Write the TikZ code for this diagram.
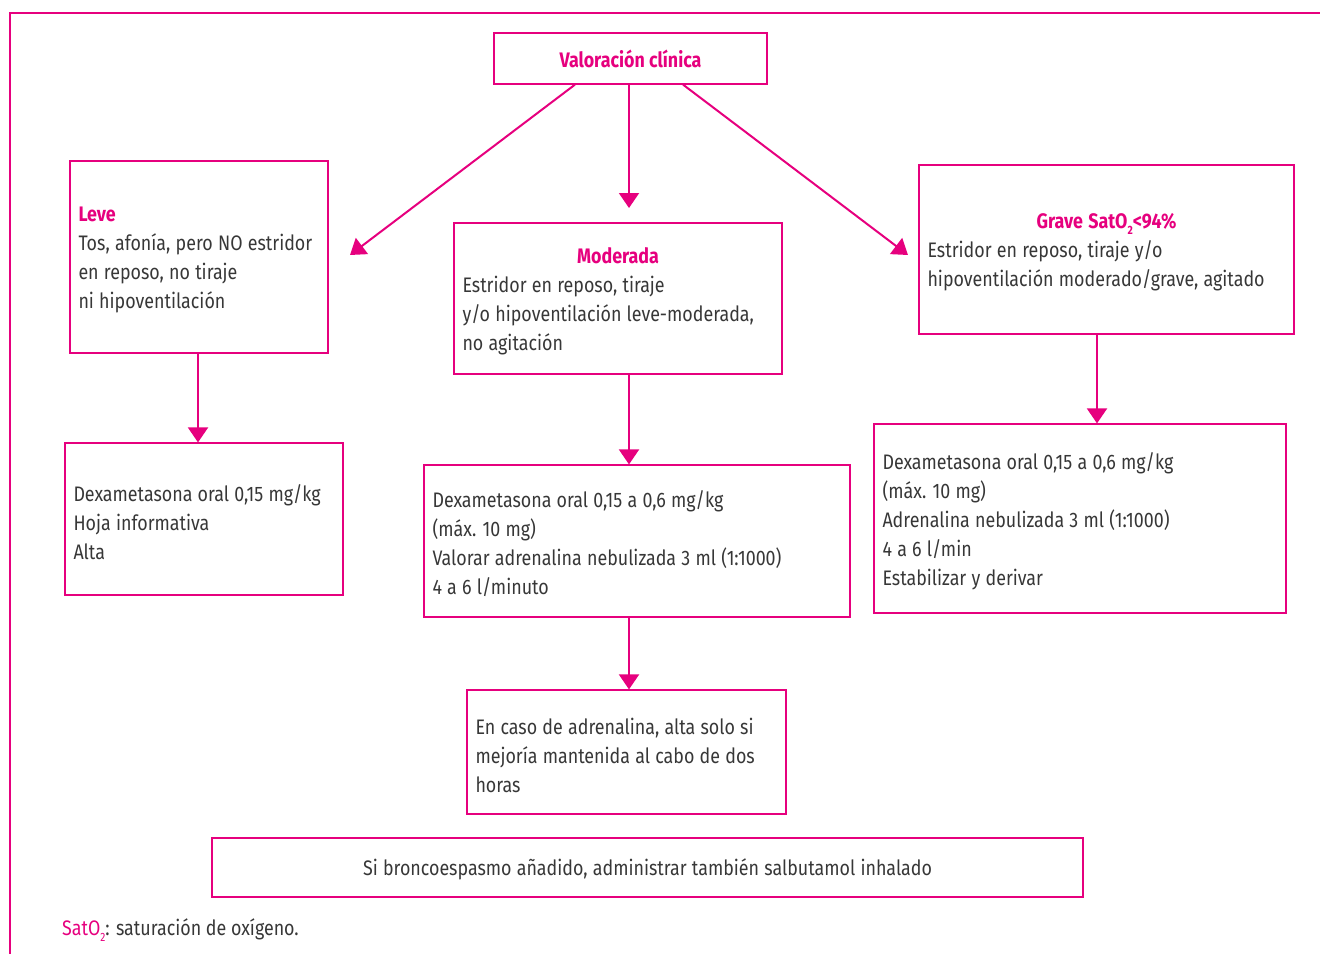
\documentclass[tikz,border=0pt]{standalone}
\usepackage{fontspec}
\setmainfont{Fira Sans}[FakeStretch=0.85]
\usetikzlibrary{arrows.meta}
\definecolor{mag}{RGB}{230,0,126}
\definecolor{txt}{RGB}{55,55,55}
\newcommand\ttl[1]{{\bfseries\color{mag}#1}}
\newcommand\lowtwo{\raisebox{-0.55ex}{\fontsize{12}{12}\selectfont 2}}
\newcommand\padbottom{\endgraf\vspace{-6pt}\nointerlineskip\hbox{}}
\newcommand\setspaces{\spaceskip=0.25em\relax\xspaceskip=0.3em\relax}
\begin{document}
\begin{tikzpicture}[x=1pt,y=-1pt,
  box/.style={draw=mag, line width=1.2pt, inner xsep=8.5pt, inner ysep=0pt,
    align=left, font=\fontsize{21}{29}\selectfont, text=txt},
  tbox/.style={box, execute at begin node=\setspaces, execute at end node=\padbottom},
  arr/.style={draw=mag, line width=2pt, -{Triangle[width=20pt,length=15pt]}}]
\useasboundingbox (0,0) rectangle (1320,954);
\draw[mag, line width=1.5pt] (1320,13) -- (10,13) -- (10,954);

\node[box, minimum width=273pt, minimum height=51pt, align=center] (val) at (630.5,58.5) {\ttl{Valoración clínica}};

\node[tbox, minimum width=258pt, minimum height=192pt, text width=241pt] (leve) at (199,257)
  {\ttl{Leve}\\Tos, afonía, pero NO estridor\\en reposo, no tiraje\\ni hipoventilación};
\node[tbox, minimum width=328pt, minimum height=151pt, text width=311pt] (mod) at (618,298.5)
  {\makebox[\hsize]{\ttl{Moderada}}\\Estridor en reposo, tiraje\\y/o hipoventilación leve-moderada,\\no agitación};
\node[tbox, minimum width=375pt, minimum height=169pt, text width=358pt] (grave) at (1106.5,249.5)
  {\makebox[\hsize]{\ttl{Grave SatO\lowtwo<94\%}}\\Estridor en reposo, tiraje y/o\\hipoventilación moderado/grave, agitado};

\node[tbox, minimum width=278pt, minimum height=152pt, text width=261pt] (dl) at (204,519)
  {Dexametasona oral 0,15 mg/kg\\Hoja informativa\\Alta};
\node[tbox, minimum width=426pt, minimum height=152pt, text width=409pt] (dm) at (637,541)
  {Dexametasona oral 0,15 a 0,6 mg/kg\\(máx. 10 mg)\\Valorar adrenalina nebulizada 3 ml (1:1000)\\4 a 6 l/minuto};
\node[tbox, minimum width=412pt, minimum height=189pt, text width=395pt] (dg) at (1080,518.5)
  {Dexametasona oral 0,15 a 0,6 mg/kg\\(máx. 10 mg)\\Adrenalina nebulizada 3 ml (1:1000)\\4 a 6 l/min\\Estabilizar y derivar};

\node[tbox, minimum width=319pt, minimum height=124pt, text width=302pt] (caso) at (626.5,752)
  {En caso de adrenalina, alta solo si\\mejoría mantenida al cabo de dos\\horas};

\node[tbox, minimum width=871pt, minimum height=59pt, text width=854pt, align=center] (bronco) at (647.5,867.5)
  {Si broncoespasmo añadido, administrar también salbutamol inhalado};

\node[anchor=base west, inner sep=0pt, font=\fontsize{21}{29}\selectfont, text=txt] (fn) at (62,935)
  {\textcolor{mag}{SatO\lowtwo}: saturación de oxígeno.};

\coordinate (lend) at (350,255);
\coordinate (mend) at (629,208);
\coordinate (rend) at (908,255);
\coordinate (xl) at (198,0);
\coordinate (xg) at (1097,0);

\draw[arr] ([xshift=-55.5pt]val.south) -- (lend);
\draw[arr] (val.south -| mend) -- (mend);
\draw[arr] ([xshift=52.5pt]val.south) -- (rend);

\draw[arr] (leve.south -| xl) -- (dl.north -| xl);
\draw[arr] (mod.south -| mend) -- (dm.north -| mend);
\draw[arr] (grave.south -| xg) -- (dg.north -| xg);
\draw[arr] (dm.south -| mend) -- (caso.north -| mend);
\end{tikzpicture}
\end{document}
